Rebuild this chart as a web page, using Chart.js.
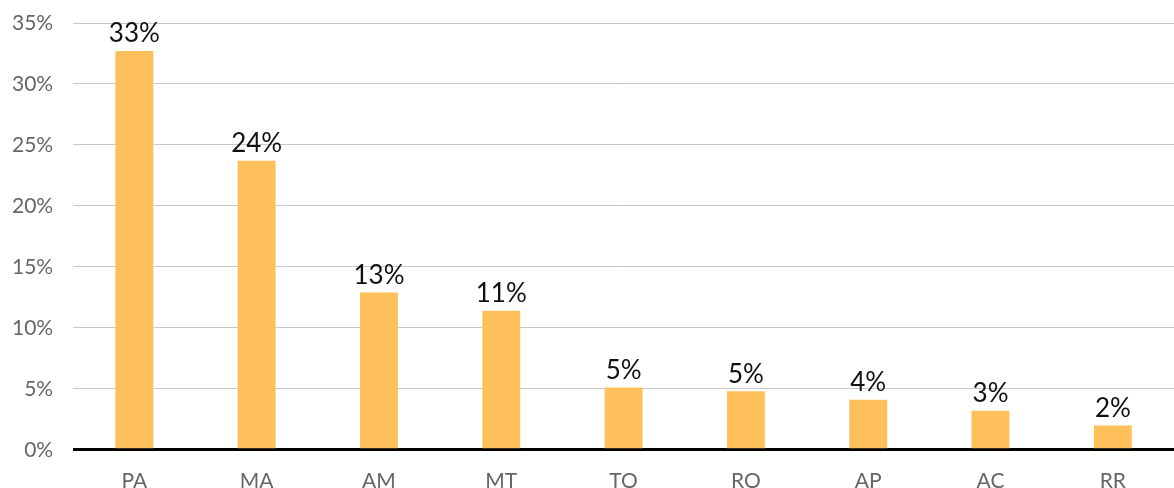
<!DOCTYPE html>
<html>
<head>
<meta charset="utf-8">
<script src="https://cdn.jsdelivr.net/npm/chart.js@4/dist/chart.umd.min.js"></script>
<style>
  html, body { margin: 0; padding: 0; background: #fff; }
  #wrap { width: 1174px; height: 488px; }
</style>
</head>
<body>
<div id="wrap"><canvas id="chart"></canvas></div>
<script>
const states = ["PA", "MA", "AM", "MT", "TO", "RO", "AP", "AC", "RR"];
const shares = [32.7, 23.7, 12.9, 11.4, 5.1, 4.8, 4.1, 3.2, 2.0];
const yTicks = [0, 5, 10, 15, 20, 25, 30, 35];

const barLabels = {
  id: "barLabels",
  afterDatasetsDraw(chart) {
    const ctx = chart.ctx;
    const meta = chart.getDatasetMeta(0);
    ctx.save();
    ctx.font = "26px Lato";
    ctx.fillStyle = "#111";
    ctx.textAlign = "center";
    ctx.textBaseline = "bottom";
    meta.data.forEach((bar, i) => {
      ctx.fillText(Math.round(shares[i]) + "%", bar.x, bar.y - 4);
    });
    ctx.restore();
  },
};

new Chart(document.getElementById("chart").getContext("2d"), {
  type: "bar",
  data: {
    labels: states,
    datasets: [
      {
        data: shares,
        backgroundColor: "#fec05b",
        categoryPercentage: 0.31,
        barPercentage: 1,
      },
    ],
  },
  options: {
    responsive: true,
    maintainAspectRatio: false,
    animation: false,
    layout: { padding: { top: 23, left: -8, right: 0, bottom: -17 } },
    scales: {
      x: {
        grid: { display: false },
        border: { display: false },
        ticks: {
          color: "#666",
          font: { size: 21, family: "Lato" },
          padding: 11,
        },
      },
      y: {
        min: 0,
        max: 35,
        afterBuildTicks: (axis) => {
          axis.ticks = yTicks.map((v) => ({ value: v }));
        },
        border: { display: false },
        grid: {
          drawTicks: false,
          color: (c) => (c.tick && c.tick.value === 0 ? "#000" : "#c8c8c8"),
          lineWidth: (c) => (c.tick && c.tick.value === 0 ? 3 : 1),
        },
        ticks: {
          color: "#666",
          font: { size: 21, family: "Lato", lineHeight: 0.2 },
          padding: 20,
          callback: (v) => v + "%",
        },
      },
    },
    plugins: {
      legend: { display: false },
      tooltip: { enabled: false },
    },
  },
  plugins: [barLabels],
});
</script>
</body>
</html>
